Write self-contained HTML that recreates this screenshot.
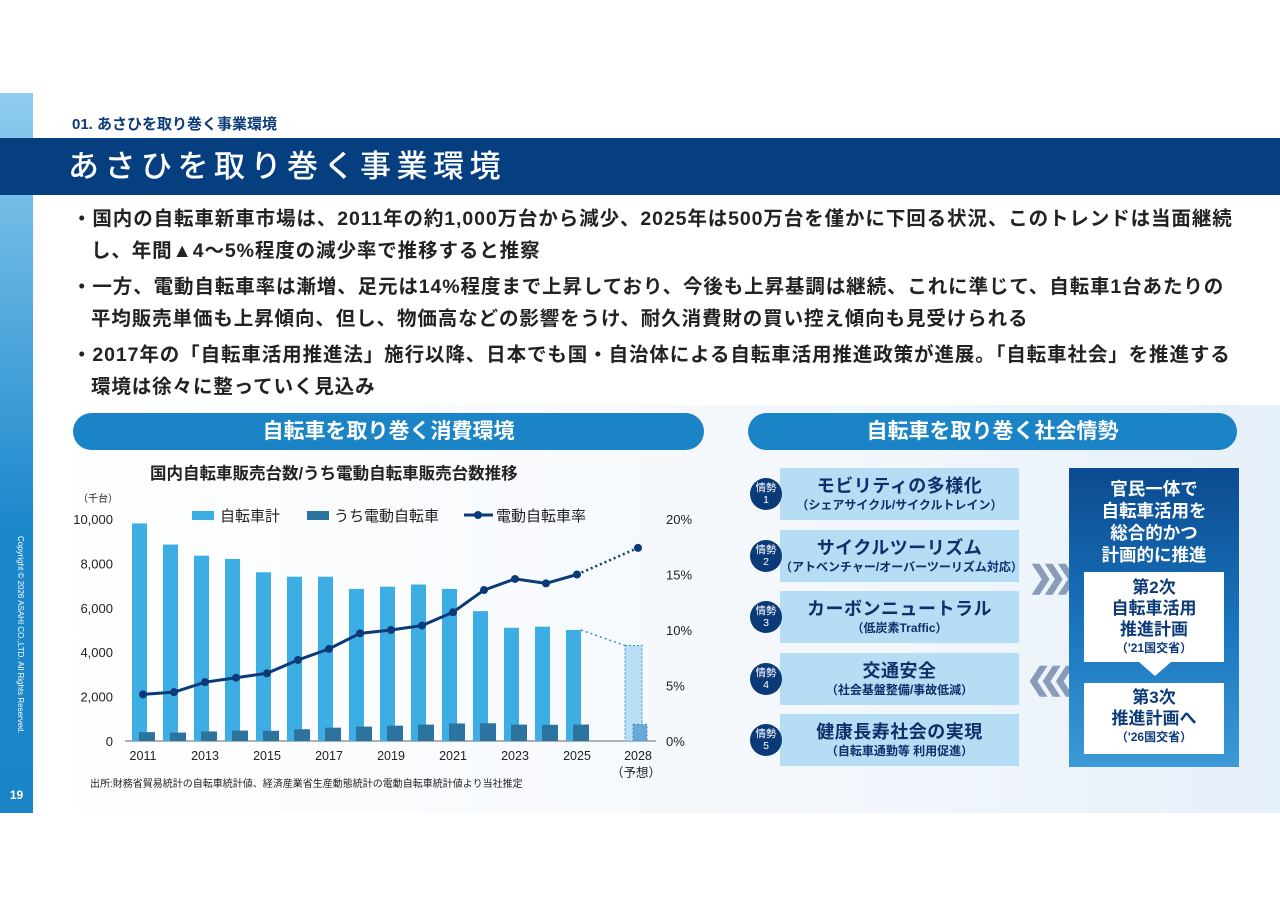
<!DOCTYPE html>
<html><head><meta charset="utf-8">
<style>
*{margin:0;padding:0;box-sizing:border-box}
body{width:1280px;height:905px;background:#fff;position:relative;overflow:hidden;font-family:"Liberation Sans","Noto Sans CJK JP",sans-serif;color:#222}
.abs{position:absolute}
.bul{position:absolute;left:72px;font-size:19.5px;font-weight:bold;line-height:32px;color:#222;width:1200px;letter-spacing:0.9px;white-space:nowrap}
.pill{position:absolute;height:37px;border-radius:19px;background:#1b84c6;color:#fff;font-size:21px;font-weight:bold;text-align:center;line-height:37px}
.item{position:absolute;left:780px;width:239px;height:52px;background:#b5ddf4;text-align:center;color:#0d2f6a}
.item .t{font-size:18px;font-weight:bold;margin-top:7px;line-height:22px;letter-spacing:0.5px}
.item .s{font-size:12px;font-weight:bold;line-height:16px}
.circ{position:absolute;left:750px;width:32px;height:32px;border-radius:50%;background:#0b3a78;color:#fff;font-size:10.5px;text-align:center;line-height:12px;padding-top:4px}
.wb{position:absolute;left:1084px;width:140px;background:#fff;color:#0b3a78;text-align:center;font-weight:bold}
</style></head><body>
<div class="abs" style="left:0;top:93px;width:33px;height:720px;background:linear-gradient(#8fcdef,#1c88cc 60%,#1a84c7)"></div>
<div class="abs" style="left:5px;top:536px;width:230px;height:12px;transform-origin:0 0;transform:rotate(90deg) translate(0,-20px);font-size:8px;color:#fff;white-space:nowrap">Copyright © 2026 ASAHI CO.,LTD. All Rights Reserved.</div>
<div class="abs" style="left:0;top:788px;width:33px;text-align:center;color:#fff;font-size:12px;font-weight:bold">19</div>
<div class="abs" style="left:72px;top:113px;font-size:15px;font-weight:bold;color:#0b3a78">01. あさひを取り巻く事業環境</div>
<div class="abs" style="left:0;top:138px;width:1280px;height:57px;background:#063f80;color:#fff;font-size:31px;line-height:57px;padding-left:68px;letter-spacing:5.5px;font-weight:500">あさひを取り巻く事業環境</div>
<div class="bul" style="top:203px">・国内の自転車新車市場は、2011年の約1,000万台から減少、2025年は500万台を僅かに下回る状況、このトレンドは当面継続<br>&nbsp;&nbsp;&nbsp;し、年間▲4～5%程度の減少率で推移すると推察</div>
<div class="bul" style="top:271px">・一方、電動自転車率は漸増、足元は14%程度まで上昇しており、今後も上昇基調は継続、これに準じて、自転車1台あたりの<br>&nbsp;&nbsp;&nbsp;平均販売単価も上昇傾向、但し、物価高などの影響をうけ、耐久消費財の買い控え傾向も見受けられる</div>
<div class="bul" style="top:339px">・2017年の「自転車活用推進法」施行以降、日本でも国・自治体による自転車活用推進政策が進展。「自転車社会」を推進する<br>&nbsp;&nbsp;&nbsp;環境は徐々に整っていく見込み</div>
<div class="abs" style="left:33px;top:405px;width:1247px;height:408px;background:linear-gradient(90deg,#fff 0%,#f4f8fc 60%,#e6f0f9 100%)"></div>
<div class="pill" style="left:73px;top:413px;width:631px">自転車を取り巻く消費環境</div>
<div class="pill" style="left:748px;top:413px;width:489px">自転車を取り巻く社会情勢</div>
<div class="abs" style="left:150px;top:460px;font-size:16.5px;font-weight:bold">国内自転車販売台数/うち電動自転車販売台数推移</div>
<svg class="abs" style="left:0;top:0" width="1280" height="905" id="chart"></svg>
<div class="abs" style="left:90px;top:775px;font-size:10px">出所:財務省貿易統計の自転車統計値、経済産業省生産動態統計の電動自転車統計値より当社推定</div>

<div class="item" style="top:468px"><div class="t">モビリティの多様化</div><div class="s">（シェアサイクル/サイクルトレイン）</div></div>
<div class="item" style="top:530px"><div class="t">サイクルツーリズム</div><div class="s">（アトベンチャー/オーバーツーリズム対応）</div></div>
<div class="item" style="top:591px"><div class="t">カーボンニュートラル</div><div class="s">（低炭素Traffic）</div></div>
<div class="item" style="top:653px"><div class="t">交通安全</div><div class="s">（社会基盤整備/事故低減）</div></div>
<div class="item" style="top:714px"><div class="t">健康長寿社会の実現</div><div class="s">（自転車通勤等 利用促進）</div></div>
<div class="circ" style="top:478px">情勢<br>1</div>
<div class="circ" style="top:540px">情勢<br>2</div>
<div class="circ" style="top:601px">情勢<br>3</div>
<div class="circ" style="top:663px">情勢<br>4</div>
<div class="circ" style="top:724px">情勢<br>5</div>
<div class="abs" style="left:1028px;top:560px;font-size:30px;color:#8a9bb8;font-weight:bold;letter-spacing:-12px">❯❯❯</div>
<div class="abs" style="left:1026px;top:662px;font-size:30px;color:#8a9bb8;font-weight:bold;letter-spacing:-12px">❮❮❮</div>
<div class="abs" style="left:1069px;top:468px;width:170px;height:299px;background:linear-gradient(#0b4a8f,#1a76bf 55%,#3d9ad6);color:#fff;text-align:center;font-size:17.5px;font-weight:bold;line-height:22px;padding-top:10px">官民一体で<br>自転車活用を<br>総合的かつ<br>計画的に推進</div>
<div class="wb" style="top:572px;height:90px;font-size:17px;line-height:21px;padding-top:5px">第2次<br>自転車活用<br>推進計画<div style="font-size:12px;line-height:16px">（'21国交省）</div></div>
<div class="abs" style="left:1139px;top:662px;width:0;height:0;border-left:16px solid transparent;border-right:16px solid transparent;border-top:14px solid #fff"></div>
<div class="wb" style="top:683px;height:71px;font-size:17px;line-height:21px;padding-top:4px">第3次<br>推進計画へ<div style="font-size:12px;line-height:16px">（'26国交省）</div></div>

<script>
const years=[2011,2012,2013,2014,2015,2016,2017,2018,2019,2020,2021,2022,2023,2024,2025];
const totals=[9800,8850,8350,8200,7600,7400,7400,6850,6950,7050,6850,5850,5100,5150,5000];
const ebikes=[400,380,430,470,460,530,600,650,690,740,790,800,740,730,740];
const rates=[4.2,4.4,5.3,5.7,6.1,7.3,8.3,9.7,10.0,10.4,11.6,13.6,14.6,14.2,15.0];
const forecastYear=2028, forecastTotal=4300, forecastEbike=750, forecastRate=17.4;
const leftTicks=[0,2000,4000,6000,8000,10000];
const rightTicks=[0,5,10,15,20];
const xLabels=[2011,2013,2015,2017,2019,2021,2023,2025];

const svg=document.getElementById('chart');
const NS='http://www.w3.org/2000/svg';
const x=y=>y<=2025?143+(y-2011)*31:638;
const yL=v=>741-v*222/10000;
const yR=v=>741-v*222/20;
function mk(t,a){const e=document.createElementNS(NS,t);for(const k in a)e.setAttribute(k,a[k]);svg.appendChild(e);return e;}
function txt(s,a){const e=mk('text',Object.assign({'font-size':12,fill:'#222','font-family':'Liberation Sans, Noto Sans CJK JP, sans-serif'},a));e.textContent=s;return e;}
let e;
e=mk('line',{x1:125,x2:656,y1:741,y2:741,stroke:'#666','stroke-width':1});

leftTicks.forEach(v=>{e=txt(v.toLocaleString('en-US'),{x:113,y:yL(v)+5,'text-anchor':'end','font-size':13});
});
rightTicks.forEach(v=>{e=txt(v+'%',{x:666,y:yR(v)+5,'font-size':13});
});
e=txt('（千台）',{x:78,y:502,'font-size':10});
xLabels.forEach(v=>{e=txt(String(v),{x:x(v),y:760,'text-anchor':'middle','font-size':12.5});
});
e=txt('2028',{x:638,y:760,'text-anchor':'middle','font-size':12.5});
e=txt('（予想）',{x:636,y:777,'text-anchor':'middle','font-size':12.5});
years.forEach((yr,i)=>{
 e=mk('rect',{x:x(yr)-11,y:yL(totals[i]),width:15,height:741-yL(totals[i]),fill:'#3daee4'});
 
 e=mk('rect',{x:x(yr)-4,y:yL(ebikes[i]),width:16,height:741-yL(ebikes[i]),fill:'#2d73a0'});
 
});
const fx=x(forecastYear);
e=mk('rect',{x:fx-13,y:yL(forecastTotal),width:17,height:741-yL(forecastTotal),fill:'#b7def5',stroke:'#3a8fc8','stroke-dasharray':'2 2'});

e=mk('rect',{x:fx-5,y:yL(forecastEbike),width:14,height:741-yL(forecastEbike),fill:'#6aa8d6',stroke:'#3a8fc8','stroke-dasharray':'2 2'});

e=mk('line',{x1:x(2025)+4,y1:yL(totals[14]),x2:fx-13,y2:yL(forecastTotal),stroke:'#3a8fc8','stroke-width':1.5,'stroke-dasharray':'2 3'});

e=mk('polyline',{points:years.map((yr,i)=>x(yr)+','+yR(rates[i])).join(' '),fill:'none',stroke:'#0b3a78','stroke-width':3});

e=mk('line',{x1:x(2025),y1:yR(rates[14]),x2:fx,y2:yR(forecastRate),stroke:'#0b3a78','stroke-width':2.5,'stroke-dasharray':'2 3'});

years.forEach((yr,i)=>{e=mk('circle',{cx:x(yr),cy:yR(rates[i]),r:4,fill:'#0b3a78'});
});
e=mk('circle',{cx:fx,cy:yR(forecastRate),r:4,fill:'#0b3a78'});

e=mk('rect',{x:192,y:511,width:22,height:9,fill:'#3daee4'});
e=txt('自転車計',{x:220,y:521,'font-size':15});
e=mk('rect',{x:307,y:511,width:22,height:9,fill:'#2d73a0'});
e=txt('うち電動自転車',{x:334,y:521,'font-size':15});
e=mk('line',{x1:464,x2:493,y1:515,y2:515,stroke:'#0b3a78','stroke-width':3});
e=mk('circle',{cx:478,cy:515,r:4,fill:'#0b3a78'});
e=txt('電動自転車率',{x:496,y:521,'font-size':15});
</script>
</body></html>
